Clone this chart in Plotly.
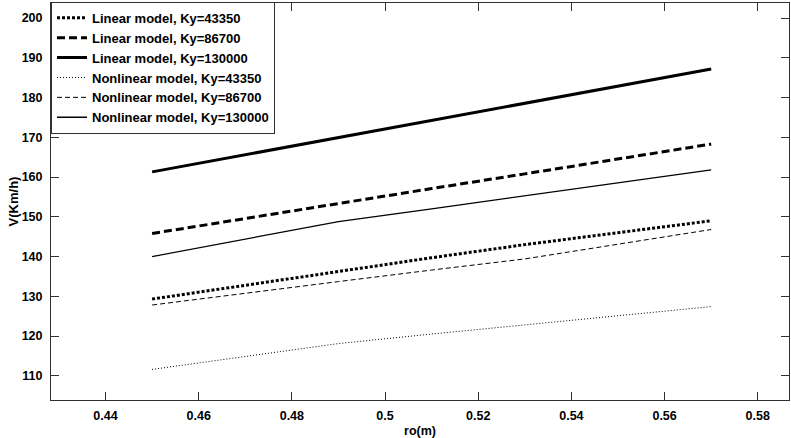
import plotly.graph_objects as go

# Wheel radius ro (m)
ro = [0.45, 0.47, 0.49, 0.51, 0.53, 0.55, 0.57]

# Critical speed V (km/h) for each model / lateral stiffness Ky
lin_43350 = [129.3, 132.8, 136.3, 139.7, 143.0, 146.0, 149.0]
lin_86700 = [145.8, 149.6, 153.3, 157.1, 160.8, 164.6, 168.3]
lin_130000 = [161.3, 165.6, 169.9, 174.3, 178.6, 182.9, 187.2]
nl_43350 = [111.6, 114.9, 118.1, 120.5, 122.8, 125.2, 127.4]
nl_86700 = [127.8, 130.8, 133.7, 136.6, 139.4, 143.1, 146.8]
nl_130000 = [140.0, 144.4, 148.8, 152.0, 155.3, 158.6, 161.8]

x_ticks = [0.44, 0.46, 0.48, 0.5, 0.52, 0.54, 0.56, 0.58]
x_tick_text = ["0.44", "0.46", "0.48", "0.5", "0.52", "0.54", "0.56", "0.58"]
y_ticks = [110, 120, 130, 140, 150, 160, 170, 180, 190, 200]

series = [
    ("Linear model, Ky=43350", lin_43350, 3.0, "3px,2px"),
    ("Linear model, Ky=86700", lin_86700, 3.0, "8px,4px"),
    ("Linear model, Ky=130000", lin_130000, 3.0, "solid"),
    ("Nonlinear model, Ky=43350", nl_43350, 1.0, "1px,2px"),
    ("Nonlinear model, Ky=86700", nl_86700, 1.0, "5px,3px"),
    ("Nonlinear model, Ky=130000", nl_130000, 1.3, "solid"),
]

fig = go.Figure()
for name, vals, w, dash in series:
    fig.add_trace(go.Scatter(
        x=ro, y=vals, mode="lines", name=name,
        line=dict(color="black", width=w, dash=dash),
    ))

font_family = "Liberation Sans, Arial, sans-serif"
axis_color = "#303030"

fig.update_layout(
    width=791, height=438,
    margin=dict(l=51, r=2, t=3, b=38),
    paper_bgcolor="white", plot_bgcolor="white",
    font=dict(family=font_family, size=12, color="black"),
    showlegend=True,
    legend=dict(
        x=0, y=1.003, xanchor="left", yanchor="top",
        bgcolor="white", bordercolor=axis_color, borderwidth=1,
        font=dict(family=font_family, size=13, color="black", weight="bold"),
        itemwidth=30, tracegroupgap=0,
    ),
)

fig.update_xaxes(
    range=[0.4283, 0.5867],
    tickmode="array", tickvals=x_ticks, ticktext=x_tick_text,
    ticks="inside", ticklen=8, tickwidth=1, tickcolor=axis_color,
    showline=True, linecolor=axis_color, linewidth=1, mirror="ticks",
    showgrid=False, zeroline=False,
    tickfont=dict(family=font_family, size=12.5, color="black", weight="bold"),
    ticklabelstandoff=4,
    title=dict(text="ro(m)", standoff=4,
               font=dict(family=font_family, size=12.5, color="black", weight="bold")),
    automargin=False,
)

fig.update_yaxes(
    range=[103.9, 203.8],
    tickmode="array", tickvals=y_ticks,
    ticks="inside", ticklen=8, tickwidth=1, tickcolor=axis_color,
    showline=True, linecolor=axis_color, linewidth=1, mirror="ticks",
    showgrid=False, zeroline=False,
    tickfont=dict(family=font_family, size=12.5, color="black", weight="bold"),
    ticklabelstandoff=5,
    title=dict(text="V(Km/h)", standoff=0,
               font=dict(family=font_family, size=13, color="black", weight="bold")),
    automargin=False,
)

fig.write_html("out.html")
